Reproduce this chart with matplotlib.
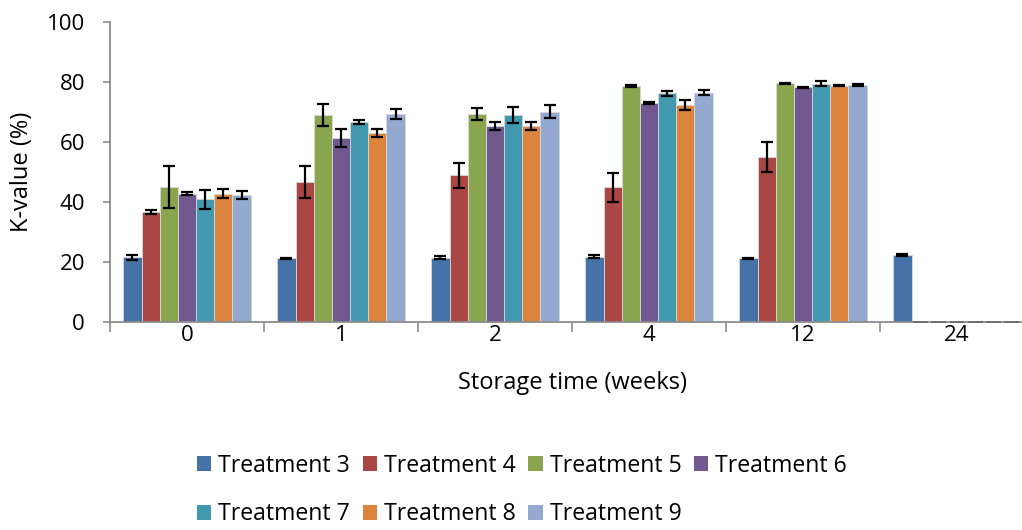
import matplotlib
matplotlib.use("Agg")
import matplotlib.pyplot as plt
from matplotlib.patches import Patch
import numpy as np

plt.rcParams['font.family'] = ['Open Sans', 'DejaVu Sans']

weeks = ["0", "1", "2", "4", "12", "24"]
treatments = ["Treatment 3", "Treatment 4", "Treatment 5", "Treatment 6",
              "Treatment 7", "Treatment 8", "Treatment 9"]

t3 = [21.6, 21.2, 21.4, 21.8, 21.3, 22.3]
t4 = [36.6, 46.7, 48.9, 44.9, 55.1, 0]
t5 = [45.1, 69.0, 69.5, 78.7, 79.6, 0]
t6 = [42.7, 61.5, 65.4, 73.1, 78.2, 0]
t7 = [40.9, 66.8, 69.1, 76.2, 79.4, 0]
t8 = [42.8, 63.0, 65.3, 72.3, 78.8, 0]
t9 = [42.3, 69.3, 70.1, 76.5, 78.9, 0]

e3 = [0.9, 0.2, 0.5, 0.5, 0.2, 0.3]
e4 = [0.7, 5.4, 4.1, 4.9, 5.0, 0]
e5 = [7.0, 3.6, 2.0, 0.3, 0.2, 0]
e6 = [0.5, 3.0, 1.3, 0.3, 0.2, 0]
e7 = [3.2, 0.7, 2.6, 0.8, 0.8, 0]
e8 = [1.6, 1.2, 1.4, 1.6, 0.2, 0]
e9 = [1.3, 1.7, 2.1, 0.8, 0.3, 0]

values = [t3, t4, t5, t6, t7, t8, t9]
errors = [e3, e4, e5, e6, e7, e8, e9]
colors = ["#4572A7", "#AA4643", "#89A54E", "#71588F",
          "#4198AF", "#DB843D", "#93A9CF"]

TICK_FS = 16
LABEL_FS = 17
LEGEND_FS = 16.6

fig = plt.figure(figsize=(10.22, 5.30), dpi=100)
ax = fig.add_axes([110 / 1022, 208 / 530, 924 / 1022, 300 / 530])

n = len(treatments)
w = 0.118
centers = np.arange(len(weeks)) + 0.5
for j in range(n):
    x = centers + (j - (n - 1) / 2) * w
    vals = np.array(values[j])
    errs = np.array(errors[j])
    pos = vals > 0
    ax.bar(x[pos], vals[pos], width=w, color=colors[j], edgecolor="#d8d8d8",
           linewidth=0.6, zorder=2)
    # zero-valued bars show up only as a short grey stroke on the baseline
    ax.bar(x[~pos], vals[~pos], width=w * 0.82, color="none",
           edgecolor="#6e6e6e", linewidth=1.4, zorder=3, clip_on=False)
    ax.errorbar(x[pos], vals[pos], yerr=errs[pos], fmt="none",
                ecolor="black", elinewidth=1.6, capsize=4.5, capthick=1.6,
                zorder=4)

ax.set_xlim(0, len(weeks))
ax.set_ylim(0, 100)
ax.set_yticks(np.arange(0, 101, 20))
ax.set_xticks(np.arange(0, len(weeks) + 1))
ax.set_xticklabels([])
ax.set_xticks(centers, minor=True)
ax.set_xticklabels(weeks, minor=True)
ax.tick_params(axis="x", which="minor", length=0, labelsize=TICK_FS, pad=2)
ax.tick_params(axis="x", which="major", length=7, color="#8c8c8c", width=1.2)
ax.tick_params(axis="y", length=5, color="#8c8c8c", width=1.2,
               labelsize=TICK_FS, pad=13)

for side in ("top", "right"):
    ax.spines[side].set_visible(False)
for side in ("left", "bottom"):
    ax.spines[side].set_color("#8c8c8c")
    ax.spines[side].set_linewidth(1.3)

ax.set_xlabel("Storage time (weeks)", fontsize=LABEL_FS, labelpad=18)
ax.set_ylabel("K-value (%)", fontsize=LABEL_FS, labelpad=9)

handles = [Patch(facecolor=c) for c in colors]
order = [0, 4, 1, 5, 2, 6, 3]
fig.legend([handles[i] for i in order], [treatments[i] for i in order],
           ncol=4, loc="upper left", bbox_to_anchor=(197 / 1022, 1 - 454 / 530),
           frameon=False, fontsize=LEGEND_FS, handlelength=0.62,
           handleheight=0.62, handletextpad=0.3, columnspacing=0.55,
           labelspacing=1.05, borderaxespad=0, borderpad=0)

fig.savefig("out.png", dpi=100)
